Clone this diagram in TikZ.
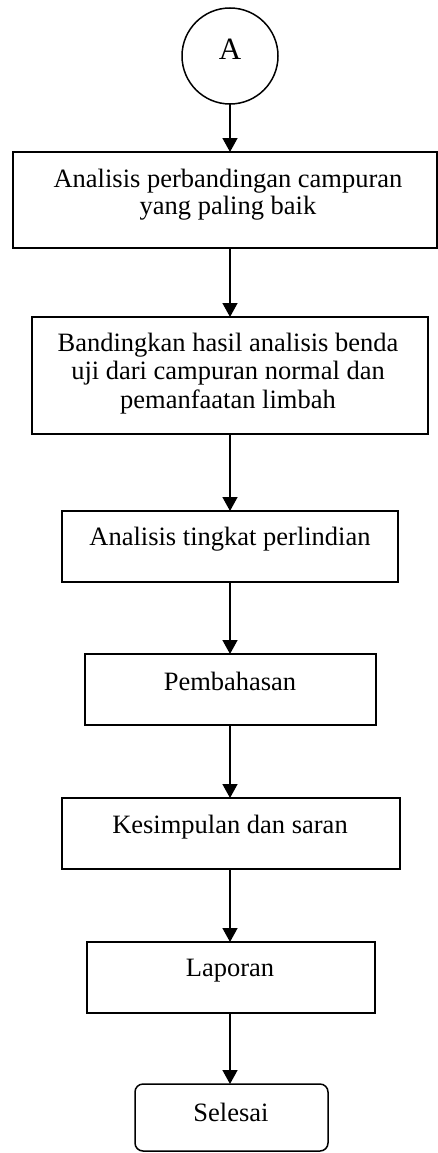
\documentclass[tikz,border=0pt]{standalone}
\usepackage{fontspec}
\setmainfont{Liberation Serif}
\usetikzlibrary{arrows.meta}
\tikzset{
  stepbox/.style={draw, rectangle, line width=1.5pt, inner sep=0pt, outer sep=0pt},
  endbox/.style={stepbox, rounded corners=8pt},
  lbl/.style={anchor=base, align=center, inner sep=0pt, font=\fontsize{26.5}{27}\selectfont},
  arr/.style={line width=1.5pt, -{Triangle[length=14pt,width=15pt]}}
}
\begin{document}
\begin{tikzpicture}[x=1pt,y=-1pt]
\useasboundingbox (0,0) rectangle (438,1153);
% connector circle
\node[draw, circle, line width=1.5pt, minimum size=96pt, inner sep=0pt, outer sep=0pt,
      font=\fontsize{31}{32}\selectfont, text height=21pt, text depth=13pt] (A) at (230,56) {A};
% boxes
\node[stepbox, minimum width=424pt, minimum height=96pt]  (b1) at (225,200)    {};
\node[stepbox, minimum width=396pt, minimum height=117pt] (b2) at (230,375.5)  {};
\node[stepbox, minimum width=336pt, minimum height=71pt]  (b3) at (230,546.5)  {};
\node[stepbox, minimum width=291pt, minimum height=71pt]  (b4) at (230.5,689.5){};
\node[stepbox, minimum width=338pt, minimum height=71pt]  (b5) at (231,833.5)  {};
\node[stepbox, minimum width=288pt, minimum height=71pt]  (b6) at (231,977.5)  {};
\node[endbox,  minimum width=193pt, minimum height=67pt]  (b7) at (231.5,1117.5){};
% texts (anchor base = baseline of last line)
\node[lbl] (t1) at (228,214) {Analisis perbandingan campuran\\yang paling baik};
\node[lbl, font=\fontsize{26.5}{28.5}\selectfont] (t2) at (228,408) {Bandingkan hasil analisis benda\\uji dari campuran normal dan\\pemanfaatan limbah};
\node[lbl] (t3) at (230,545) {Analisis tingkat perlindian};
\node[lbl] (t4) at (230,690) {Pembahasan};
\node[lbl] (t5) at (230,833) {Kesimpulan dan saran};
\node[lbl] (t6) at (230,976) {Laporan};
\node[lbl] (t7) at (231,1121) {Selesai};
% connectors
\draw[arr] (A.south) -- (A.south |- b1.north);
\draw[arr] (A.south |- b1.south) -- (A.south |- b2.north);
\draw[arr] (A.south |- b2.south) -- (A.south |- b3.north);
\draw[arr] (A.south |- b3.south) -- (A.south |- b4.north);
\draw[arr] (A.south |- b4.south) -- (A.south |- b5.north);
\draw[arr] (A.south |- b5.south) -- (A.south |- b6.north);
\draw[arr] (A.south |- b6.south) -- (A.south |- b7.north);
\end{tikzpicture}
\end{document}
